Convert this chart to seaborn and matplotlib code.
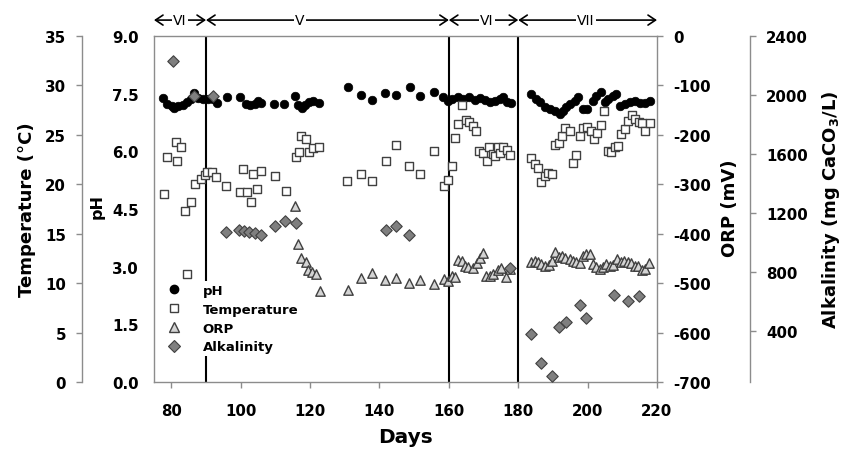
#!/usr/bin/env python3
"""Reactor monitoring: pH, temperature, ORP and alkalinity against operating days."""

import matplotlib

matplotlib.use("Agg")
import matplotlib.pyplot as plt
from matplotlib.lines import Line2D
import seaborn as sns

# ---- data -----------------------------------------------------------------
PH_DAYS = [77.7, 78.8, 80.3, 80.9, 82.0, 83.5, 84.6, 85.8, 86.6, 87.8, 89.2, 90.7, 92.1, 93.3,
           96.1, 99.9, 101.6, 102.8, 104.2, 105.1, 105.9, 109.7, 112.6, 115.7, 116.6, 117.7,
           118.6, 119.8, 120.9, 122.6, 131.0, 134.7, 137.9, 141.7, 144.8, 148.9, 151.7, 155.8,
           158.4, 159.8, 161.0, 162.7, 164.1, 165.9, 167.6, 169.0, 170.5, 171.9, 173.3, 174.8,
           175.6, 176.8, 178.0, 183.7, 185.2, 186.3, 187.8, 189.2, 190.6, 192.1, 192.9, 193.8,
           195.0, 196.4, 197.3, 198.7, 199.9, 201.6, 202.4, 203.9, 205.0, 205.9, 207.3, 208.2,
           209.4, 210.8, 212.2, 213.7, 215.1, 216.6, 218.0]
PH_VALUES = [7.39, 7.23, 7.18, 7.13, 7.18, 7.21, 7.29, 7.36, 7.52, 7.39, 7.36, 7.36, 7.36, 7.26,
             7.42, 7.42, 7.23, 7.21, 7.23, 7.31, 7.26, 7.23, 7.23, 7.44, 7.21, 7.13, 7.21, 7.29,
             7.31, 7.26, 7.67, 7.46, 7.34, 7.52, 7.46, 7.67, 7.44, 7.54, 7.42, 7.31, 7.36, 7.42,
             7.36, 7.42, 7.34, 7.39, 7.34, 7.29, 7.31, 7.36, 7.42, 7.29, 7.26, 7.49, 7.36, 7.29,
             7.15, 7.10, 7.05, 6.97, 7.05, 7.15, 7.23, 7.31, 7.42, 7.10, 7.10, 7.31, 7.44, 7.54,
             7.29, 7.36, 7.44, 7.49, 7.18, 7.23, 7.29, 7.31, 7.26, 7.26, 7.31]

TEMP_DAYS = [77.9, 78.8, 81.2, 81.7, 82.9, 84.0, 84.6, 85.8, 86.9, 88.6, 89.8, 90.4, 91.8, 93.0,
             95.8, 99.9, 100.7, 101.9, 103.0, 103.6, 104.8, 105.9, 110.0, 113.1, 116.0, 116.9,
             117.5, 118.9, 119.8, 120.9, 122.6, 130.7, 134.7, 137.9, 141.9, 144.8, 148.6, 151.7,
             155.8, 158.7, 159.8, 161.0, 161.8, 162.7, 163.8, 165.0, 165.9, 167.0, 167.9, 168.7,
             169.9, 171.0, 171.6, 172.8, 173.3, 174.2, 174.8, 175.6, 176.8, 177.7, 183.7, 184.9,
             185.7, 186.6, 187.8, 188.6, 189.8, 190.6, 191.8, 192.6, 193.5, 195.0, 195.8, 196.7,
             197.8, 198.7, 199.9, 201.0, 201.9, 202.7, 203.9, 204.7, 205.9, 206.8, 207.9, 208.8,
             209.6, 210.8, 211.7, 212.8, 213.7, 214.8, 215.7, 216.6, 218.0]
TEMP_VALUES = [19.0, 22.8, 24.3, 22.4, 23.8, 17.3, 10.9, 18.2, 20.0, 20.5, 20.9, 21.2, 21.2, 20.7,
               19.8, 19.2, 21.5, 19.2, 18.2, 21.0, 19.5, 21.3, 20.8, 19.3, 22.8, 23.3, 24.9, 24.6,
               23.3, 23.7, 23.8, 20.3, 21.0, 20.3, 22.4, 24.0, 21.9, 21.0, 23.4, 19.8, 20.4, 21.8,
               24.7, 26.1, 28.0, 26.5, 26.3, 25.9, 25.4, 23.4, 23.2, 22.4, 23.8, 23.1, 22.9, 23.8,
               23.2, 23.8, 23.5, 23.0, 22.7, 22.1, 21.6, 20.2, 20.8, 21.1, 21.0, 24.0, 24.2, 24.9,
               25.7, 25.4, 22.2, 23.0, 24.9, 25.7, 25.8, 25.4, 24.6, 25.2, 26.0, 27.4, 23.4, 23.3,
               23.8, 23.9, 25.1, 25.6, 26.4, 27.0, 26.6, 26.3, 26.2, 25.4, 26.2]

ORP_DAYS = [115.7, 116.6, 117.5, 118.9, 119.5, 120.6, 121.8, 122.9, 131.0, 134.7, 137.9, 141.7,
            144.8, 148.6, 151.7, 155.8, 158.7, 159.8, 161.0, 161.8, 162.7, 163.8, 164.7, 165.6,
            167.0, 168.2, 169.0, 169.9, 170.8, 171.9, 172.8, 174.2, 175.1, 176.5, 177.7, 183.7,
            184.9, 185.7, 186.6, 187.8, 188.9, 189.8, 190.6, 191.8, 192.6, 193.5, 195.0, 195.8,
            196.7, 197.8, 198.7, 199.6, 200.7, 201.6, 202.4, 203.6, 204.5, 205.3, 206.5, 207.3,
            208.5, 209.6, 210.5, 211.7, 212.5, 213.7, 214.5, 215.7, 216.6, 217.7]
ORP_VALUES = [-344, -421, -449, -457, -473, -477, -481, -516, -514, -490, -479, -494,
              -490, -500, -494, -502, -492, -496, -486, -488, -453, -455, -465, -467,
              -469, -459, -449, -439, -486, -486, -481, -473, -469, -488, -471, -457,
              -455, -457, -461, -465, -463, -455, -437, -447, -445, -449, -451, -455,
              -457, -459, -445, -441, -441, -461, -467, -471, -467, -461, -465, -463,
              -451, -457, -455, -457, -459, -465, -465, -473, -471, -459]

ALK_DAYS = [80.6, 86.6, 92.1, 95.8, 99.6, 101.0, 102.5, 104.2, 105.9, 110.0, 112.8, 116.0,
            141.9, 144.8, 148.6, 177.7, 183.7, 186.6, 189.8, 191.8, 193.8, 197.8, 199.6,
            207.6, 211.7, 214.8]
ALK_VALUES = [2230, 1993, 1993, 1069, 1083, 1076, 1069, 1063, 1049, 1110, 1144, 1130,
              1083, 1110, 1049, 825, 377, 180, 92, 424, 458, 574, 486, 642, 601, 635]

PHASE_BOUNDS = [90, 160, 180]
PHASES = [("VI", 75, 90, 82.5), ("V", 90, 160, 117.0), ("VI", 160, 180, 171.0), ("VII", 180, 220, 199.5)]

SPINE = "#8c8c8c"
EDGE = "#404040"


def _style_y(axis, side, spine_pos=None):
    for name, sp in axis.spines.items():
        sp.set_visible(name == side)
        sp.set_color(SPINE)
        sp.set_linewidth(1.0)
    if spine_pos is not None:
        axis.spines[side].set_position(("axes", spine_pos))
    axis.yaxis.set_ticks_position(side)
    axis.yaxis.set_label_position(side)
    axis.tick_params(axis="y", which="both", direction="out", length=4, width=1,
                     color=SPINE, labelcolor="black", labelsize=10.8, pad=7.5)


def main() -> None:
    sns.set_theme(style="ticks")
    plt.rcParams.update({
        "font.family": ["DejaVu Sans"],
        "font.weight": "bold",
        "axes.labelweight": "bold",
        "axes.unicode_minus": False,
        "text.color": "black",
        "axes.labelcolor": "black",
        "xtick.labelcolor": "black",
        "ytick.labelcolor": "black",
        "figure.dpi": 100,
    })

    fig = plt.figure(figsize=(8.42, 4.52), dpi=100)
    ax = fig.add_axes([154 / 842, 1 - 383 / 452, 503 / 842, 346 / 452])
    ax_t = ax.twinx()
    ax_o = ax.twinx()
    ax_a = ax.twinx()

    # main axes: pH
    for name, sp in ax.spines.items():
        sp.set_color(SPINE)
        sp.set_linewidth(1.0)
    ax.spines["right"].set_visible(False)
    ax.set_xlim(75, 220)
    ax.set_xticks(range(80, 221, 20))
    ax.set_ylim(0, 9)
    ax.set_yticks([0, 1.5, 3.0, 4.5, 6.0, 7.5, 9.0])
    ax.set_yticklabels([f"{v:.1f}" for v in [0, 1.5, 3.0, 4.5, 6.0, 7.5, 9.0]])
    ax.tick_params(axis="x", direction="out", length=4, width=1, color=SPINE,
                   labelcolor="black", labelsize=10.8, pad=11)
    ax.tick_params(axis="y", length=0, labelcolor="black", labelsize=10.8, pad=11)
    for d in PHASE_BOUNDS:
        ax.axvline(d, color="black", lw=1.5, zorder=1)

    _style_y(ax_t, "left", spine_pos=-72 / 503)
    ax_t.set_ylim(0, 35)
    ax_t.set_yticks(range(0, 36, 5))

    _style_y(ax_o, "right")
    ax_o.set_ylim(-700, 0)
    ax_o.set_yticks(range(-700, 1, 100))

    _style_y(ax_a, "right", spine_pos=596 / 503)
    ax_a.set_ylim(52, 2400)
    ax_a.set_yticks(range(400, 2401, 400))

    sns.scatterplot(x=PH_DAYS, y=PH_VALUES, ax=ax, marker="o", s=38, color="black",
                    edgecolor="black", linewidth=0.5, zorder=3)
    sns.scatterplot(x=TEMP_DAYS, y=TEMP_VALUES, ax=ax_t, marker="s", s=38, color="white",
                    edgecolor=EDGE, linewidth=1.0, zorder=3)
    sns.scatterplot(x=ORP_DAYS, y=ORP_VALUES, ax=ax_o, marker="^", s=46, color="#d4d4d4",
                    edgecolor=EDGE, linewidth=1.0, zorder=3)
    sns.scatterplot(x=ALK_DAYS, y=ALK_VALUES, ax=ax_a, marker="D", s=34, color="#7f7f7f",
                    edgecolor=EDGE, linewidth=0.8, zorder=3)

    # axis titles
    fig.text(27 / 842, 1 - 210 / 452, "Temperature (°C)", rotation=90, ha="center", va="center",
             fontsize=13, fontweight="bold")
    fig.text(97 / 842, 1 - 207 / 452, "pH", rotation=90, ha="center", va="center",
             fontsize=11.5, fontweight="bold")
    fig.text(730 / 842, 1 - 208 / 452, "ORP (mV)", rotation=90, ha="center", va="center",
             fontsize=13, fontweight="bold")
    fig.text(831 / 842, 1 - 210 / 452, r"Alkalinity (mg CaCO$_\mathbf{3}$/L)", rotation=90,
             ha="center", va="center", fontsize=13, fontweight="bold")
    fig.text(405 / 842, 1 - 438 / 452, "Days", ha="center", va="center",
             fontsize=14.5, fontweight="bold")

    # phase arrows along the top
    trans = ax.get_xaxis_transform()
    for label, start, end, xmid in PHASES:
        ax_a.annotate("", xy=(start, 1.046), xytext=(end, 1.046), xycoords=trans, textcoords=trans,
                      annotation_clip=False,
                      arrowprops=dict(arrowstyle="<->,head_length=0.45,head_width=0.3",
                                      lw=1.2, color="black", shrinkA=0, shrinkB=0))
        ax_a.text(xmid, 1.046, label, transform=trans, ha="center", va="center", fontsize=10,
                  fontweight="normal", clip_on=False,
                  bbox=dict(boxstyle="square,pad=0.1", fc="white", ec="none"))

    handles = [
        Line2D([], [], ls="", marker="o", ms=6, mfc="black", mec="black", label="pH"),
        Line2D([], [], ls="", marker="s", ms=6, mfc="white", mec=EDGE, mew=1.0, label="Temperature"),
        Line2D([], [], ls="", marker="^", ms=6.5, mfc="#d4d4d4", mec=EDGE, mew=1.0, label="ORP"),
        Line2D([], [], ls="", marker="D", ms=5.8, mfc="#7f7f7f", mec=EDGE, mew=0.8, label="Alkalinity"),
    ]
    leg = ax_a.legend(handles=handles, loc="upper left", bbox_to_anchor=(163 / 842, 1 - 282 / 452),
                      bbox_transform=fig.transFigure, frameon=True, fancybox=False,
                      facecolor="white", edgecolor="none", framealpha=1,
                      prop={"size": 9.5, "weight": "bold"}, handlelength=1.2,
                      handletextpad=1.6, labelspacing=0.45, borderpad=0.2, borderaxespad=0)
    leg.set_zorder(10)

    fig.savefig("out.png", dpi=100)
    plt.close(fig)


if __name__ == "__main__":
    main()
